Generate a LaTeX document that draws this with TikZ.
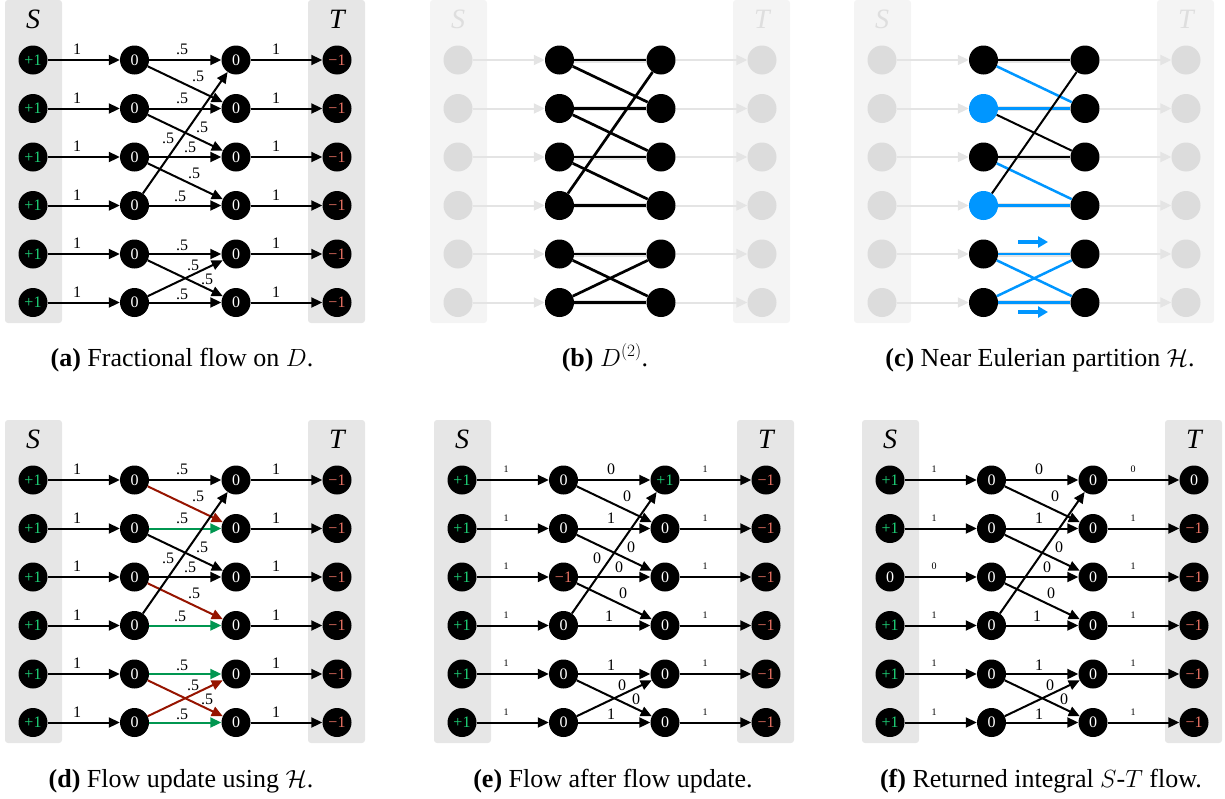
\documentclass[tikz,border=0pt]{standalone}
\usepackage{fontspec}
\setmainfont{Liberation Serif}
\newfontfamily\tms{Liberation Serif}
\usetikzlibrary{arrows.meta}
\definecolor{boxg}{RGB}{230,230,230}
\definecolor{boxl}{RGB}{244,244,244}
\definecolor{nodel}{RGB}{220,220,220}
\definecolor{arrl}{RGB}{228,228,228}
\definecolor{labl}{RGB}{222,222,222}
\definecolor{pgreen}{RGB}{30,210,120}
\definecolor{pred}{RGB}{235,115,100}
\definecolor{ered}{RGB}{150,20,0}
\definecolor{egreen}{RGB}{0,150,80}
\definecolor{eblue}{RGB}{0,150,255}
\newcommand\Pp{\textcolor{pgreen}{+1}}
\newcommand\Mm{\textcolor{pred}{\char"2212 1}}
\def\EdgeI{{1,1,2,2,3,3,4,4,5,5,6,6}}
\def\EdgeJ{{1,2,2,3,3,4,4,1,5,6,5,6}}
\def\EdgeX{{149,165,149,169,157,161,147,135,149,174,160,149}}
\def\EdgeY{{-10.5,16,38,67,87,113,136,78,185,219,205,234}}
\tikzset{
  vert/.style={circle,fill=black,minimum size=29pt,inner sep=0pt,text=white,font=\tms\fontsize{16}{16}\selectfont},
  bvert/.style={vert,fill=eblue},
  fvert/.style={circle,fill=nodel,minimum size=29pt,inner sep=0pt},
  flow/.style={line width=2pt,-{Triangle[length=11pt,width=10pt]}},
  fflow/.style={line width=2pt,arrl,-{Triangle[length=11pt,width=10pt]}},
  fline/.style={line width=5pt,arrl},
  bedge/.style={line width=2.7pt,black},
  cblack/.style={line width=2pt,black},
  cblue/.style={line width=2.5pt,eblue},
  barrow/.style={line width=3.5pt,eblue,-{Triangle[length=10pt,width=11pt]}},
  elab/.style={font=\tms\fontsize{16}{16}\selectfont,inner sep=0pt},
  slab/.style={font=\tms\fontsize{10}{10}\selectfont,inner sep=0pt},
  sttext/.style={font=\tms\fontsize{28}{28}\selectfont\itshape,inner sep=0pt},
  captext/.style={font=\tms\fontsize{26}{30}\selectfont,anchor=base,inner sep=0pt},
}
\newcommand\stboxes[3]{% prefix, fill, label colour
  \fill[#2,rounded corners=3pt] (-28,-60) rectangle (29,263);
  \fill[#2,rounded corners=3pt] (275,-60) rectangle (332,263);
  \node[sttext,text=#3] (#1Slab) at (0,-41) {S};
  \node[sttext,text=#3] (#1Tlab) at (304,-41) {T};}
\newcommand\col[4]{% name prefix, x, style, contents
  \foreach \cc [count=\rr] in {#4} {\node[#3] (#1\rr) at (#2,{(\rr-1)*48.5}) {\cc};}}
\newcommand\flowpanel[9]{%
  \stboxes{#1}{boxg}{black}
  \col{#1S}{0}{vert}{#2}
  \col{#1L}{101.5}{vert}{#3}
  \col{#1R}{203}{vert}{#4}
  \col{#1T}{304}{vert}{#5}
  \foreach \lb [count=\rr] in {#7} {\draw[flow] (#1S\rr) -- (#1L\rr);
    \node[#6] (#1sl\rr) at (44,{(\rr-1)*48.5-10.5}) {\lb};}
  \foreach \lb [count=\rr] in {#8} {\draw[flow] (#1R\rr) -- (#1T\rr);
    \node[#6] (#1tl\rr) at (243,{(\rr-1)*48.5-10.5}) {\lb};}
  \foreach \st/\lab [count=\kk from 0] in {#9} {
    \pgfmathtruncatemacro\ei{\EdgeI[\kk]}
    \pgfmathtruncatemacro\ej{\EdgeJ[\kk]}
    \pgfmathsetmacro\lx{\EdgeX[\kk]}
    \pgfmathsetmacro\ly{\EdgeY[\kk]}
    \draw[flow,\st] (#1L\ei) -- (#1R\ej);
    \node[elab] (#1m\ei\ej) at (\lx,\ly) {\lab};
  }}
\newcommand\faintpanel[3]{% prefix, L styles, edge styles
  \stboxes{#1}{boxl}{labl}
  \foreach \st [count=\rr] in {#2} {
    \node[fvert] (#1S\rr) at (0,{(\rr-1)*48.5}) {};
    \node[\st] (#1L\rr) at (101.5,{(\rr-1)*48.5}) {};
    \node[vert] (#1R\rr) at (203,{(\rr-1)*48.5}) {};
    \node[fvert] (#1T\rr) at (304,{(\rr-1)*48.5}) {};
    \draw[fflow] (#1S\rr) -- (#1L\rr);
    \draw[fflow] (#1R\rr) -- (#1T\rr);
    \draw[fline] (#1L\rr) -- (#1R\rr);}
  \foreach \st [count=\kk from 0] in {#3} {
    \pgfmathtruncatemacro\ei{\EdgeI[\kk]}
    \pgfmathtruncatemacro\ej{\EdgeJ[\kk]}
    \draw[\st] (#1L\ei) -- (#1R\ej);
  }}
\begin{document}
\begin{tikzpicture}[x=1pt,y=-1pt]
\useasboundingbox (0,0) rectangle (1225,798);
% (a)
\begin{scope}[shift={(33,60)}]
\flowpanel{a}{\Pp,\Pp,\Pp,\Pp,\Pp,\Pp}{0,0,0,0,0,0}{0,0,0,0,0,0}{\Mm,\Mm,\Mm,\Mm,\Mm,\Mm}{elab}{1,1,1,1,1,1}{1,1,1,1,1,1}
 {black/.5,black/.5,black/.5,black/.5,black/.5,black/.5,black/.5,black/.5,black/.5,black/.5,black/.5,black/.5}
\end{scope}
% (b)
\begin{scope}[shift={(458,60)}]
\faintpanel{b}{vert,vert,vert,vert,vert,vert}{bedge,bedge,bedge,bedge,bedge,bedge,bedge,bedge,bedge,bedge,bedge,bedge}
\end{scope}
% (c)
\begin{scope}[shift={(882,60)}]
\faintpanel{c}{vert,bvert,vert,bvert,vert,vert}{cblack,cblue,cblue,cblack,cblack,cblue,cblue,cblack,cblue,cblue,cblue,cblue}
\coordinate (cA1) at (136,182); \coordinate (cA2) at (166,182);
\coordinate (cB1) at (136,252); \coordinate (cB2) at (166,252);
\draw[barrow] (cA1) -- (cA2);
\draw[barrow] (cB1) -- (cB2);
\end{scope}
% (d)
\begin{scope}[shift={(33,480)}]
\flowpanel{d}{\Pp,\Pp,\Pp,\Pp,\Pp,\Pp}{0,0,0,0,0,0}{0,0,0,0,0,0}{\Mm,\Mm,\Mm,\Mm,\Mm,\Mm}{elab}{1,1,1,1,1,1}{1,1,1,1,1,1}
 {black/.5,ered/.5,egreen/.5,black/.5,black/.5,ered/.5,egreen/.5,black/.5,egreen/.5,ered/.5,ered/.5,egreen/.5}
\end{scope}
% (e)
\begin{scope}[shift={(462,480)}]
\flowpanel{e}{\Pp,\Pp,\Pp,\Pp,\Pp,\Pp}{0,0,\Mm,0,0,0}{\Pp,0,0,0,0,0}{\Mm,\Mm,\Mm,\Mm,\Mm,\Mm}{slab}{1,1,1,1,1,1}{1,1,1,1,1,1}
 {black/0,black/0,black/1,black/0,black/0,black/0,black/1,black/0,black/1,black/0,black/0,black/1}
\end{scope}
% (f)
\begin{scope}[shift={(890,480)}]
\flowpanel{f}{\Pp,\Pp,0,\Pp,\Pp,\Pp}{0,0,0,0,0,0}{0,0,0,0,0,0}{0,\Mm,\Mm,\Mm,\Mm,\Mm}{slab}{1,1,0,1,1,1}{0,1,1,1,1,1}
 {black/0,black/0,black/1,black/0,black/0,black/0,black/1,black/{},black/1,black/0,black/0,black/1}
\end{scope}
% captions
\node[captext] (capa) at (182,366) {\textbf{(a)} Fractional flow on $D$.};
\node[captext] (capb) at (605,366) {\textbf{(b)} $D^{(2)}$.};
\node[captext] (capc) at (1040,366) {\textbf{(c)} Near Eulerian partition $\mathcal{H}$.};
\node[captext] (capd) at (181,787) {\textbf{(d)} Flow update using $\mathcal{H}$.};
\node[captext] (cape) at (613,787) {\textbf{(e)} Flow after flow update.};
\node[captext] (capf) at (1041,787) {\textbf{(f)} Returned integral $S$-$T$ flow.};
\end{tikzpicture}
\end{document}
